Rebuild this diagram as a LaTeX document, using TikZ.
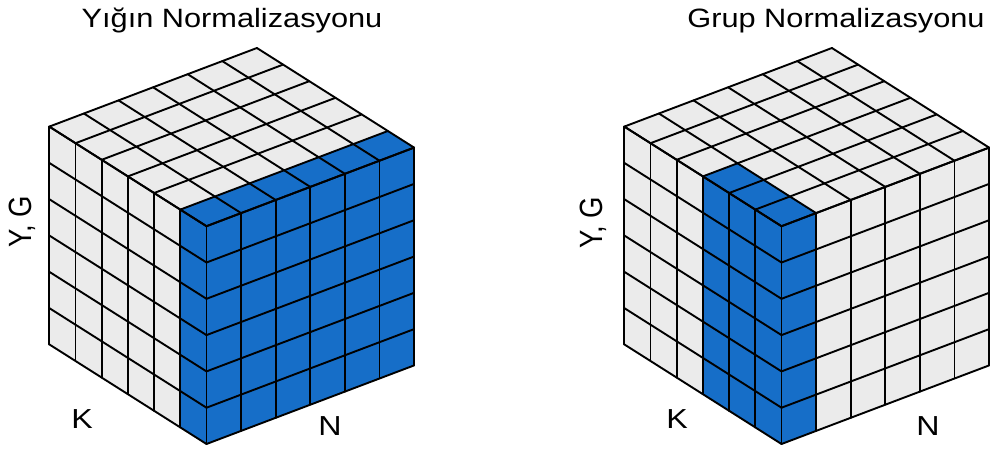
\documentclass[tikz,border=0pt]{standalone}
\usepackage{fontspec}
\setmainfont{Liberation Sans}
\definecolor{cellgrey}{RGB}{235,235,235}
\definecolor{cellblue}{RGB}{22,110,200}
\tikzset{
  gridline/.style={draw=black, line width=1.9pt, line join=round, line cap=round},
  greyface/.style={fill=cellgrey},
  blueface/.style={fill=cellblue},
  cubeaxes/.style={x={(34.6pt,13.1pt)}, y={(0pt,36.3pt)}, z={(-26.2pt,16.6pt)}},
  titletext/.style={inner sep=0pt, anchor=base, font=\fontsize{26.5}{30}\selectfont},
  labeltext/.style={inner sep=0pt, font=\fontsize{27.5}{30}\selectfont}
}
\begin{document}
\begin{tikzpicture}[x=1pt, y=1pt]
\useasboundingbox (0,0) rectangle (990,448);
\fill[white] (0,0) rectangle (990,448);

% ---------- left cube: Yigin Normalizasyonu ----------
\begin{scope}[shift={(206.5pt,4pt)}, cubeaxes]
  \path[blueface] (0,0,0) -- (6,0,0) -- (6,6,0) -- (0,6,0) -- cycle;
  \path[greyface] (0,0,0) -- (0,0,6) -- (0,6,6) -- (0,6,0) -- cycle;
  \path[blueface] (0,0,0) -- (0,0,1) -- (0,6,1) -- (0,6,0) -- cycle;
  \path[greyface] (0,6,0) -- (6,6,0) -- (6,6,6) -- (0,6,6) -- cycle;
  \path[blueface] (0,6,0) -- (6,6,0) -- (6,6,1) -- (0,6,1) -- cycle;
  \foreach \i in {0,...,6} {
    \draw[gridline] (\i,0,0) -- (\i,6,0);
    \draw[gridline] (0,\i,0) -- (6,\i,0);
    \draw[gridline] (0,0,\i) -- (0,6,\i);
    \draw[gridline] (0,\i,0) -- (0,\i,6);
    \draw[gridline] (\i,6,0) -- (\i,6,6);
    \draw[gridline] (0,6,\i) -- (6,6,\i);
  }
\end{scope}

% ---------- right cube: Grup Normalizasyonu ----------
\begin{scope}[shift={(781.5pt,4pt)}, cubeaxes]
  \path[greyface] (0,0,0) -- (6,0,0) -- (6,6,0) -- (0,6,0) -- cycle;
  \path[blueface] (0,0,0) -- (1,0,0) -- (1,6,0) -- (0,6,0) -- cycle;
  \path[greyface] (0,0,0) -- (0,0,6) -- (0,6,6) -- (0,6,0) -- cycle;
  \path[blueface] (0,0,0) -- (0,0,3) -- (0,6,3) -- (0,6,0) -- cycle;
  \path[greyface] (0,6,0) -- (6,6,0) -- (6,6,6) -- (0,6,6) -- cycle;
  \path[blueface] (0,6,0) -- (1,6,0) -- (1,6,3) -- (0,6,3) -- cycle;
  \foreach \i in {0,...,6} {
    \draw[gridline] (\i,0,0) -- (\i,6,0);
    \draw[gridline] (0,\i,0) -- (6,\i,0);
    \draw[gridline] (0,0,\i) -- (0,6,\i);
    \draw[gridline] (0,\i,0) -- (0,\i,6);
    \draw[gridline] (\i,6,0) -- (\i,6,6);
    \draw[gridline] (0,6,\i) -- (6,6,\i);
  }
\end{scope}

% ---------- texts ----------
\node[titletext] (titleA) at (232,420) {\scalebox{1.16}[1]{Yığın Normalizasyonu}};
\node[titletext] (titleB) at (836,420) {\scalebox{1.16}[1]{Grup Normalizasyonu}};
\node[labeltext] (ygA) at (22,226) {\scalebox{1.17}[1]{\rotatebox{90}{Y, G}}};
\node[labeltext] (ygB) at (593,225) {\scalebox{1.17}[1]{\rotatebox{90}{Y, G}}};
\node[labeltext, anchor=base] (kA) at (82,20) {\scalebox{1.17}[1]{K}};
\node[labeltext, anchor=base] (kB) at (677,20) {\scalebox{1.17}[1]{K}};
\node[labeltext, anchor=base] (nA) at (330,13) {\scalebox{1.17}[1]{N}};
\node[labeltext, anchor=base] (nB) at (928,13) {\scalebox{1.17}[1]{N}};
\end{tikzpicture}
\end{document}
